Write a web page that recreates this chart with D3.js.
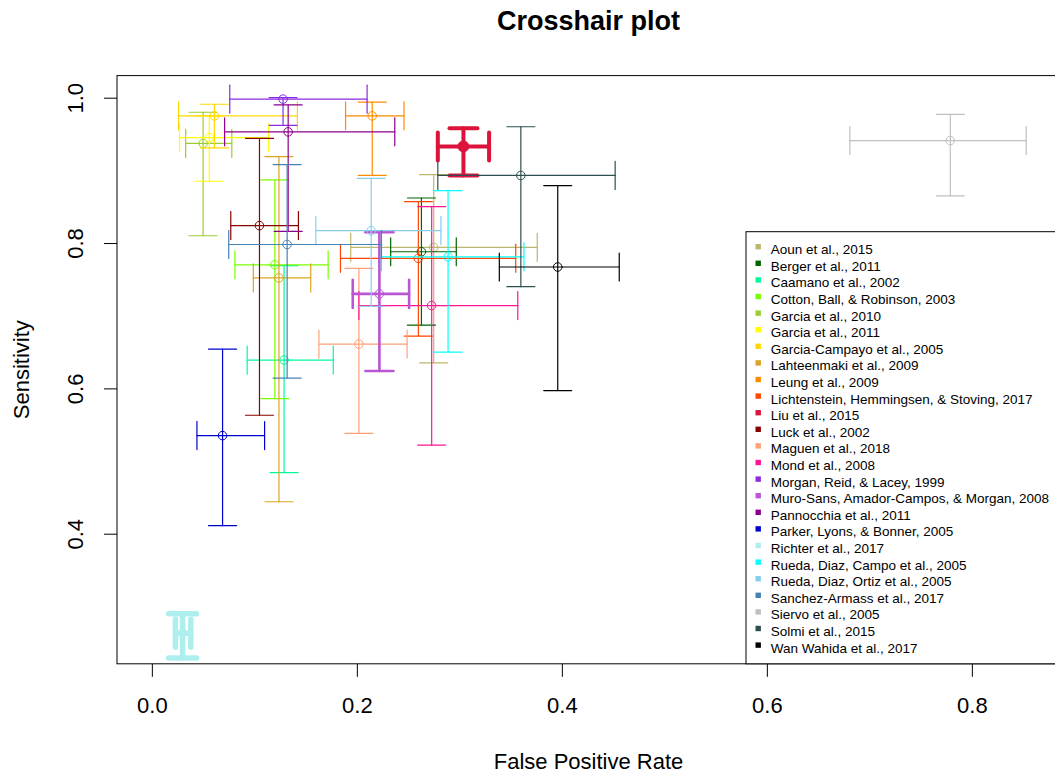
<!DOCTYPE html>
<html>
<head>
<meta charset="utf-8">
<script src="https://cdn.jsdelivr.net/npm/d3@7"></script>
<style>
  body { margin: 0; background: #fff; }
  svg { display: block; font-family: "Liberation Sans", Arial, sans-serif; }
</style>
</head>
<body>
<svg id="chart" width="1055" height="775"></svg>
<script>
// Study labels, in legend (and drawing) order
const studies = [
  "Aoun et al., 2015",
  "Berger et al., 2011",
  "Caamano et al., 2002",
  "Cotton, Ball, & Robinson, 2003",
  "Garcia et al., 2010",
  "Garcia et al., 2011",
  "Garcia-Campayo et al., 2005",
  "Lahteenmaki et al., 2009",
  "Leung et al., 2009",
  "Lichtenstein, Hemmingsen, & Stoving, 2017",
  "Liu et al., 2015",
  "Luck et al., 2002",
  "Maguen et al., 2018",
  "Mond et al., 2008",
  "Morgan, Reid, & Lacey, 1999",
  "Muro-Sans, Amador-Campos, & Morgan, 2008",
  "Pannocchia et al., 2011",
  "Parker, Lyons, & Bonner, 2005",
  "Richter et al., 2017",
  "Rueda, Diaz, Campo et al., 2005",
  "Rueda, Diaz, Ortiz et al., 2005",
  "Sanchez-Armass et al., 2017",
  "Siervo et al., 2005",
  "Solmi et al., 2015",
  "Wan Wahida et al., 2017"
];

// False positive rate: point estimate and confidence interval
const fpr      = [0.275, 0.263, 0.129, 0.120, 0.050, 0.056, 0.061, 0.124, 0.215, 0.260, 0.304, 0.105, 0.202,
                  0.273, 0.128, 0.222, 0.133, 0.069, 0.030, 0.289, 0.214, 0.132, 0.779, 0.360, 0.396];
const fprLower = [0.194, 0.233, 0.093, 0.081, 0.033, 0.027, 0.026, 0.099, 0.189, 0.184, 0.279, 0.077, 0.163,
                  0.202, 0.076, 0.196, 0.071, 0.044, 0.023, 0.224, 0.160, 0.075, 0.681, 0.279, 0.339];
const fprUpper = [0.376, 0.297, 0.177, 0.172, 0.078, 0.114, 0.142, 0.155, 0.246, 0.355, 0.329, 0.143, 0.249,
                  0.357, 0.210, 0.251, 0.237, 0.110, 0.038, 0.363, 0.282, 0.224, 0.853, 0.452, 0.456];

// Sensitivity: point estimate and confidence interval
const sens      = [0.794, 0.788, 0.639, 0.770, 0.937, 0.945, 0.975, 0.752, 0.975, 0.779, 0.933, 0.824, 0.661,
                   0.714, 0.998, 0.730, 0.953, 0.535, 0.263, 0.781, 0.817, 0.798, 0.941, 0.893, 0.767];
const sensLower = [0.635, 0.687, 0.484, 0.586, 0.810, 0.885, 0.931, 0.444, 0.893, 0.672, 0.893, 0.563, 0.538,
                   0.522, 0.962, 0.624, 0.816, 0.411, 0.229, 0.650, 0.713, 0.614, 0.865, 0.740, 0.597];
const sensUpper = [0.894, 0.862, 0.769, 0.887, 0.980, 0.975, 0.991, 0.919, 0.994, 0.857, 0.958, 0.944, 0.765,
                   0.850, 1.000, 0.815, 0.990, 0.654, 0.290, 0.872, 0.889, 0.908, 0.977, 0.960, 0.879];

// Axis tick values
const xTicks = [0.0, 0.2, 0.4, 0.6, 0.8];
const yTicks = [0.4, 0.6, 0.8, 1.0];

// One colour per study
const colors = ["#BDB76B", "#006400", "#00FA9A", "#7CFC00", "#9ACD32", "#FFFF00", "#FFD700", "#DAA520",
                "#FF8C00", "#FF4500", "#DC143C", "#8B0000", "#FFA07A", "#FF1493", "#8A2BE2", "#BA55D3",
                "#8B008B", "#0000CD", "#AFEEEE", "#00FFFF", "#87CEEB", "#4682B4", "#C0C0C0", "#2F4F4F",
                "#000000"];

// Heavier strokes for a few studies
const heavyStroke = {
  "Liu et al., 2015": 4,
  "Richter et al., 2017": 5.5,
  "Muro-Sans, Amador-Campos, & Morgan, 2008": 2.6
};
const filledPoint = { "Liu et al., 2015": true };

const W = 1055, H = 775;
const plot = { left: 117, right: 1060, top: 75.6, bottom: 663.8 };
const capHalf = 14;

const svg = d3.select("#chart");
svg.append("rect").attr("width", W).attr("height", H).attr("fill", "#fff");

const x = d3.scaleLinear().domain([-0.034, 0.886]).range([plot.left, plot.right]);
const y = d3.scaleLinear().domain([0.221, 1.0304]).range([plot.bottom, plot.top]);

svg.append("defs").append("clipPath").attr("id", "plotClip")
  .append("rect")
  .attr("x", plot.left).attr("y", plot.top)
  .attr("width", plot.right - plot.left).attr("height", plot.bottom - plot.top);

// Crosshairs
const marks = svg.append("g").attr("clip-path", "url(#plotClip)");
const rows = studies.map((name, i) => ({
  name, color: colors[i],
  fpr: fpr[i], fprLo: fprLower[i], fprHi: fprUpper[i],
  sens: sens[i], sensLo: sensLower[i], sensHi: sensUpper[i],
  lw: heavyStroke[name] || 1.2,
  filled: !!filledPoint[name]
}));

rows.forEach(d => {
  const g = marks.append("g")
    .attr("stroke", d.color)
    .attr("stroke-width", d.lw)
    .attr("stroke-linecap", "round")
    .attr("fill", "none");
  const cx = x(d.fpr), cy = y(d.sens);
  // horizontal arm (false positive rate interval) with end caps
  g.append("line").attr("x1", x(d.fprLo)).attr("x2", x(d.fprHi)).attr("y1", cy).attr("y2", cy);
  [d.fprLo, d.fprHi].forEach(v => {
    g.append("line").attr("x1", x(v)).attr("x2", x(v)).attr("y1", cy - capHalf).attr("y2", cy + capHalf);
  });
  // vertical arm (sensitivity interval) with end caps
  g.append("line").attr("x1", cx).attr("x2", cx).attr("y1", y(d.sensLo)).attr("y2", y(d.sensHi));
  [d.sensLo, d.sensHi].forEach(v => {
    g.append("line").attr("x1", cx - capHalf).attr("x2", cx + capHalf).attr("y1", y(v)).attr("y2", y(v));
  });
  // point estimate
  if (d.filled) {
    g.append("circle").attr("cx", cx).attr("cy", cy).attr("r", 5.5)
      .attr("fill", d.color).attr("stroke-width", 1);
  } else {
    g.append("circle").attr("cx", cx).attr("cy", cy).attr("r", 4.3).attr("stroke-width", 1);
  }
});

// Axes
const xAxis = svg.append("g")
  .attr("transform", `translate(0,${plot.bottom})`)
  .call(d3.axisBottom(x).tickValues(xTicks).tickFormat(d3.format(".1f"))
    .tickSize(13).tickPadding(20.6).tickSizeOuter(0));
xAxis.select(".domain").remove();
xAxis.selectAll(".tick line").attr("stroke", "#000");
xAxis.selectAll(".tick text")
  .attr("fill", "#000").attr("font-size", 22)
  .attr("font-family", "'Liberation Sans', Arial, sans-serif");

const yAxis = svg.append("g")
  .attr("transform", `translate(${plot.left},0)`)
  .call(d3.axisLeft(y).tickValues(yTicks).tickFormat(d3.format(".1f"))
    .tickSize(13).tickSizeOuter(0));
yAxis.select(".domain").remove();
yAxis.selectAll(".tick line").attr("stroke", "#000");
yAxis.selectAll(".tick text")
  .attr("x", null).attr("dy", null).attr("y", null)
  .attr("text-anchor", "middle")
  .attr("transform", "translate(-34,0) rotate(-90)")
  .attr("fill", "#000").attr("font-size", 22)
  .attr("font-family", "'Liberation Sans', Arial, sans-serif");

// Plot frame
svg.append("rect")
  .attr("x", plot.left).attr("y", plot.top)
  .attr("width", plot.right - plot.left).attr("height", plot.bottom - plot.top)
  .attr("fill", "none").attr("stroke", "#000").attr("stroke-width", 1);

// Titles
const midX = (plot.left + plot.right) / 2;
svg.append("text").attr("x", midX).attr("y", 30)
  .attr("text-anchor", "middle").attr("font-size", 27).attr("font-weight", "bold")
  .text("Crosshair plot");
svg.append("text").attr("x", midX).attr("y", 769)
  .attr("text-anchor", "middle").attr("font-size", 22)
  .text("False Positive Rate");
svg.append("text")
  .attr("transform", `translate(29,${(plot.top + plot.bottom) / 2}) rotate(-90)`)
  .attr("text-anchor", "middle").attr("font-size", 22)
  .text("Sensitivity");

// Legend (bottom right of the plot region)
const legend = { left: 746, top: 231.7, firstRow: 249.3, step: 16.6 };
svg.append("rect")
  .attr("x", legend.left).attr("y", legend.top)
  .attr("width", plot.right - legend.left).attr("height", plot.bottom - legend.top)
  .attr("fill", "#fff").attr("stroke", "#000").attr("stroke-width", 1);
const item = svg.append("g").selectAll("g").data(rows).join("g")
  .attr("transform", (d, i) => `translate(0,${legend.firstRow + i * legend.step})`);
item.append("rect")
  .attr("x", 755.5).attr("y", -5.3).attr("width", 5.4).attr("height", 5.4)
  .attr("fill", d => d.color);
item.append("text")
  .attr("x", 770.7).attr("y", 0).attr("dy", "0.36em")
  .attr("font-size", 13.5).attr("fill", "#000")
  .text(d => d.name);
</script>
</body>
</html>
